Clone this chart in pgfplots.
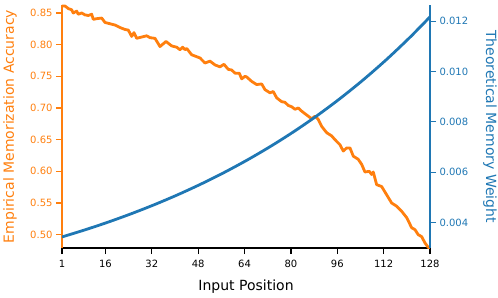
\documentclass[border=0pt]{standalone}
\usepackage{pgfplots}
\pgfplotsset{compat=1.18}
\usepackage{fontspec}
\setmainfont{DejaVu Sans}
\usetikzlibrary{calc}
\definecolor{corange}{HTML}{FF7F0E}
\definecolor{cblue}{HTML}{1F77B4}
\begin{document}
\begin{tikzpicture}
\begin{axis}[
  name=ax,
  scale only axis, width=368bp, height=243bp,
  xmin=1, xmax=128, ymin=0.4790, ymax=0.8626,
  axis x line*=bottom, axis y line*=left,
  x axis line style={black, line width=1.6bp, -},
  y axis line style={corange, line width=1.6bp, -},
  tick align=outside, major tick length=6bp,
  xtick={1,16,32,48,64,80,96,112,128},
  ytick={0.50,0.55,0.60,0.65,0.70,0.75,0.80,0.85},
  xtick style={black, line width=1.2bp},
  ytick style={corange, line width=1.2bp},
  /pgf/number format/assume math mode=true,
  yticklabel style={/pgf/number format/.cd, fixed, fixed zerofill, precision=2, /tikz/.cd, text=corange, font=\fontsize{10bp}{12bp}\selectfont},
  xticklabel style={font=\fontsize{10bp}{12bp}\selectfont, yshift=-3bp},
  scaled y ticks=false,
  xlabel={Input Position},
  ylabel={Empirical Memorization Accuracy},
  xlabel style={at={(axis description cs:0.5,-0.158)}, anchor=center, font=\fontsize{14bp}{16bp}\selectfont},
  ylabel style={at={(axis description cs:-0.141,0.5)}, anchor=center, text=corange, font=\fontsize{14bp}{16bp}\selectfont},
]
\addplot[corange, line width=2.8bp, line join=round] coordinates {
(1.00,0.861) (2.04,0.861) (3.17,0.857) (4.35,0.855) (4.90,0.850) (6.07,0.853)
(6.62,0.848) (7.80,0.850) (8.94,0.847) (10.08,0.846) (11.25,0.848) (11.80,0.840)
(12.97,0.841) (14.70,0.842) (15.84,0.835) (17.56,0.833) (19.29,0.831) (21.01,0.827)
(22.74,0.824) (23.88,0.823) (24.46,0.818) (25.05,0.813) (25.84,0.819) (26.78,0.810)
(28.50,0.812) (30.23,0.814) (31.37,0.811) (33.09,0.810) (34.82,0.797) (36.89,0.805)
(38.85,0.798) (40.58,0.796) (41.72,0.792) (42.65,0.796) (43.44,0.792) (44.03,0.794)
(45.76,0.784) (47.48,0.781) (48.62,0.779) (50.35,0.771) (52.07,0.774) (53.80,0.768)
(55.52,0.765) (56.90,0.769) (58.38,0.761) (59.56,0.760) (60.70,0.755) (62.18,0.755)
(63.01,0.746) (64.15,0.750) (64.73,0.749) (66.46,0.742) (68.18,0.737) (69.91,0.738)
(71.05,0.729) (72.77,0.724) (73.91,0.726) (75.09,0.716) (76.81,0.710) (77.95,0.709)
(79.09,0.704) (80.26,0.702) (81.40,0.698) (82.54,0.700) (83.71,0.695) (85.44,0.689)
(87.16,0.683) (88.30,0.687) (89.44,0.682) (90.61,0.671) (92.34,0.661) (94.06,0.656)
(95.20,0.650) (96.93,0.642) (98.07,0.632) (99.24,0.637) (100.38,0.637) (101.52,0.624)
(103.24,0.619) (104.42,0.611) (105.55,0.599) (107.04,0.600) (107.86,0.595) (108.42,0.599)
(109.59,0.579) (111.32,0.576) (113.04,0.563) (114.77,0.550) (116.49,0.545) (118.22,0.537)
(119.94,0.527) (121.67,0.511) (122.81,0.508) (123.94,0.500) (125.12,0.497) (126.26,0.487)
(127.40,0.480) (128.00,0.479)
};
\end{axis}
\begin{axis}[
  scale only axis, width=368bp, height=243bp,
  xmin=1, xmax=128, ymin=0.00298, ymax=0.01265,
  axis x line=none, axis y line*=right,
  y axis line style={cblue, line width=1.6bp, -},
  tick align=outside, major tick length=6bp,
  ytick={0.004,0.006,0.008,0.010,0.012},
  ytick style={cblue, line width=1.2bp},
  scaled y ticks=false,
  /pgf/number format/assume math mode=true,
  yticklabel style={/pgf/number format/.cd, fixed, fixed zerofill, precision=3, /tikz/.cd, text=cblue, font=\fontsize{10bp}{12bp}\selectfont},
  ylabel={Theoretical Memory Weight},
  ylabel style={at={(axis description cs:1.163,0.5)}, anchor=center, rotate=-180, text=cblue, font=\fontsize{14bp}{16bp}\selectfont},
]
\addplot[cblue, line width=2.8bp, smooth] coordinates {
(1,0.003420) (9,0.003705) (17,0.004013) (25,0.004348) (33,0.004710) (41,0.005102)
(49,0.005527) (57,0.005987) (65,0.006486) (73,0.007026) (81,0.007611) (89,0.008245)
(97,0.008932) (105,0.009676) (113,0.010482) (121,0.011355) (128,0.012178)
};
\end{axis}
\pgfresetboundingbox
\path (ax.south west) ++(-62bp,-50bp) rectangle ($(ax.north east)+(68bp,5bp)$);
\end{tikzpicture}
\end{document}
